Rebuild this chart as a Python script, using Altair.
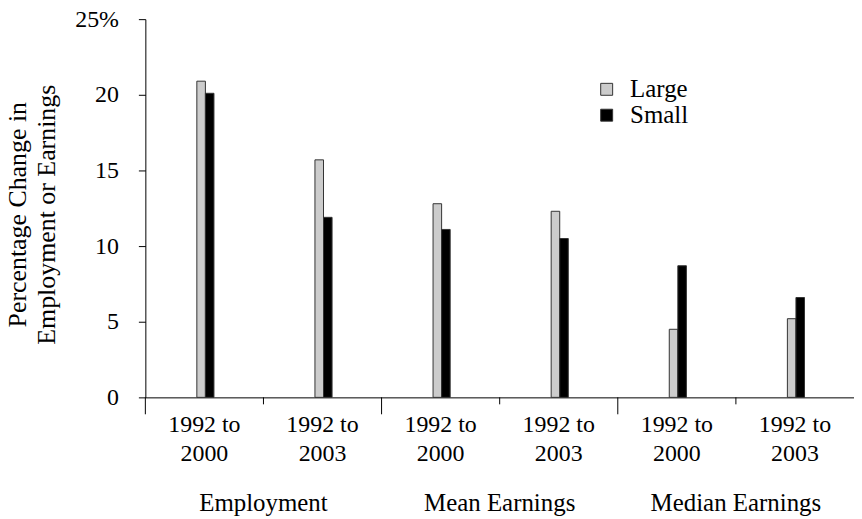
import altair as alt
import pandas as pd

groups = ["Employment", "Mean Earnings", "Median Earnings"]
periods = ["1992 to|2000", "1992 to|2003"]
sizes = ["Large", "Small"]
large = [20.9, 15.7, 12.8, 12.3, 4.5, 5.2]
small = [20.1, 11.9, 11.1, 10.5, 8.7, 6.6]
y_ticks = [0, 5, 10, 15, 20, 25]

keys = [f"{g}|{p}" for g in groups for p in periods]
rows = []
for i, k in enumerate(keys):
    rows.append({"key": k, "size": "Large", "value": large[i]})
    rows.append({"key": k, "size": "Small", "value": small[i]})
df = pd.DataFrame(rows)

group_df = pd.DataFrame({"group": groups,
                         "first": [f"{g}|{periods[0]}" for g in groups],
                         "second": [f"{g}|{periods[1]}" for g in groups]})

FONT = "Liberation Serif, serif"
W, H = 712, 380
BAND = W / 6
BW = 8.6

xscale = alt.Scale(domain=keys, paddingInner=0, paddingOuter=0)

bars = alt.Chart(df).mark_bar(stroke="#333333", strokeWidth=1).encode(
    x=alt.X("key:N", scale=xscale, sort=keys, title=None,
            axis=alt.Axis(labelExpr="slice(split(datum.value,'|'),1)",
                          ticks=False, labelAngle=0, labelFont=FONT,
                          labelFontSize=24, labelColor="black",
                          labelLineHeight=29, labelPadding=15,
                          domainColor="black", labelBaseline="top")),
    xOffset=alt.XOffset("size:N", scale=alt.Scale(domain=sizes, range=[BAND / 2 - BW + 1, BAND / 2 + BW + 1],
                                                  paddingOuter=0, paddingInner=0)),
    y=alt.Y("value:Q", scale=alt.Scale(domain=[0, 25], nice=False),
            axis=alt.Axis(values=y_ticks, grid=False, tickSize=7, tickColor="black",
                          domainColor="black", labelFont=FONT, labelFontSize=24,
                          labelColor="black", labelPadding=20,
                          labelExpr="datum.value == 25 ? datum.label + '%' : datum.label",
                          title=["Percentage Change in", "Employment or Earnings"],
                          titleFont=FONT, titleFontSize=26, titleFontWeight="normal",
                          titleColor="black", titleLineHeight=29,
                          titleX=-120, titleY=196, titleAngle=270,
                          titleAlign="center", titleBaseline="alphabetic")),
    color=alt.Color("size:N", scale=alt.Scale(domain=sizes, range=["#cccccc", "#000000"]),
                    legend=alt.Legend(title=None, orient="none", legendX=451, legendY=58,
                                      symbolType="square", symbolSize=144,
                                      symbolStrokeColor="#333333", symbolStrokeWidth=1,
                                      labelFont=FONT, labelFontSize=25, labelColor="black",
                                      labelOffset=11, rowPadding=0)),
)

long_ticks = alt.Chart(group_df).mark_rule(color="black", strokeWidth=1).encode(
    x=alt.X("first:N", scale=xscale, sort=keys, bandPosition=0),
    y=alt.value(H), y2=alt.value(H + 17))

short_ticks = alt.Chart(group_df).mark_rule(color="black", strokeWidth=1).encode(
    x=alt.X("second:N", scale=xscale, sort=keys, bandPosition=0),
    y=alt.value(H), y2=alt.value(H + 7))

group_labels = alt.Chart(group_df).mark_text(font=FONT, fontSize=25, color="black",
                                             baseline="alphabetic", align="center").encode(
    x=alt.X("second:N", scale=xscale, sort=keys, bandPosition=0),
    y=alt.value(494),
    text="group:N")

chart = alt.layer(bars, long_ticks, short_ticks, group_labels).properties(
    width=W, height=H,
    autosize=alt.AutoSizeParams(type="none"),
    padding={"left": 138, "top": 10, "right": 0, "bottom": 121},
    background="white",
).configure_view(stroke=None)

chart.save("out.html", embed_options={"renderer": "svg", "actions": False})
